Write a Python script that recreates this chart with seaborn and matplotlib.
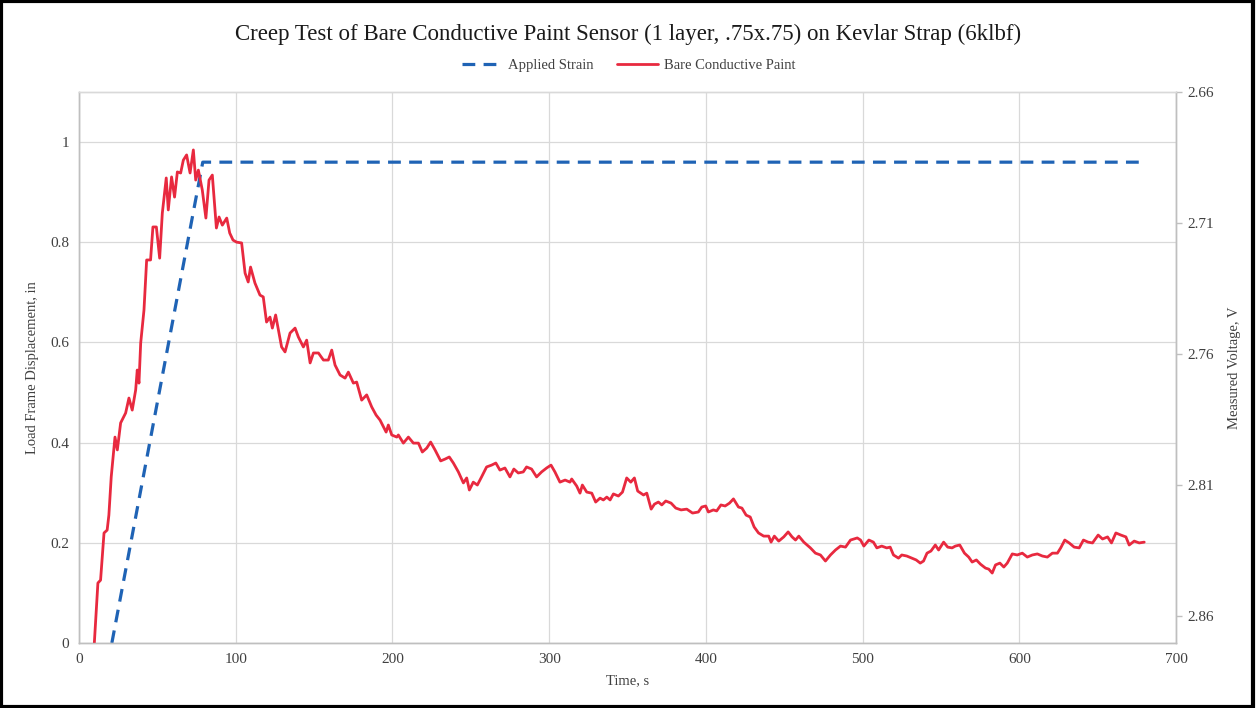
import matplotlib
matplotlib.use("Agg")
import matplotlib.pyplot as plt
from matplotlib.patches import Rectangle
from matplotlib.ticker import FuncFormatter, MultipleLocator
import numpy as np
import pandas as pd
import seaborn as sns

# applied strain (load frame displacement, in)
strain_time = [21, 79, 680]
strain_disp = [0.0, 0.96, 0.96]

# bare conductive paint sensor (measured voltage, V)
paint_time = [
    9.6, 12.1, 13.8, 16.0, 18.0, 19.1, 20.6, 23.0, 24.5, 26.6, 29.8, 31.9, 34.0,
    36.2, 37.2, 38.3, 39.4, 41.5, 43.2, 45.7, 47.2, 49.4, 51.5, 53.2, 55.7, 57.0,
    59.1, 61.0, 62.8, 64.9, 66.6, 68.7, 70.9, 73.0, 74.5, 76.2, 78.7, 81.0, 83.0,
    85.1, 87.7, 89.4, 91.5, 94.3, 96.2, 98.3, 100.6, 103.8, 106.0, 108.0, 109.5,
    112.3, 115.5, 117.6, 119.7, 121.9, 123.4, 125.5, 129.3, 131.5, 134.7, 137.9,
    140.0, 143.2, 145.3, 147.5, 149.6, 152.8, 156.0, 159.1, 161.3, 163.4, 166.6,
    169.8, 171.9, 175.1, 177.2, 180.4, 183.6, 186.8, 189.6, 192.1, 196.0, 197.4,
    199.6, 202.8, 203.8, 207.0, 210.2, 213.4, 216.6, 219.1, 221.9, 224.4, 227.2,
    230.8, 233.6, 236.3, 238.9, 242.1, 245.3, 247.4, 249.1, 251.6, 254.2, 256.9,
    260.1, 263.3, 266.0, 268.6, 271.8, 275.0, 277.5, 280.3, 283.5, 285.6, 288.8,
    292.0, 295.2, 298.4, 301.2, 303.7, 306.9, 310.2, 313.3, 314.4, 317.6, 319.7,
    321.2, 324.0, 327.2, 329.7, 332.5, 334.6, 336.8, 338.9, 341.0, 344.2, 346.8,
    349.5, 352.1, 354.4, 356.5, 360.2, 362.3, 365.1, 367.2, 369.7, 371.9, 374.4,
    377.8, 380.8, 384.2, 387.8, 391.5, 395.2, 397.4, 399.9, 401.6, 404.8, 406.9,
    409.6, 412.3, 415.1, 417.6, 420.8, 423.0, 425.7, 428.3, 430.8, 433.6, 436.9,
    440.1, 441.6, 443.7, 446.5, 449.7, 452.5, 455.0, 457.2, 459.3, 462.5, 466.7,
    469.9, 473.1, 476.3, 479.5, 482.7, 485.9, 489.1, 492.3, 496.6, 498.7, 500.8,
    504.0, 506.9, 509.1, 512.2, 515.4, 517.6, 519.7, 522.9, 525.0, 528.2, 531.4,
    534.2, 536.8, 538.9, 541.1, 543.6, 546.4, 548.5, 551.7, 554.3, 557.1, 559.2,
    562.0, 565.0, 567.7, 569.9, 572.6, 575.2, 578.4, 580.5, 582.7, 584.8, 587.6,
    590.1, 592.3, 595.5, 598.7, 601.9, 605.1, 608.3, 611.5, 614.7, 617.9, 621.1,
    624.3, 626.4, 629.0, 631.8, 635.0, 638.2, 640.9, 643.9, 646.7, 650.3, 653.1,
    656.3, 658.8, 661.6, 664.8, 668.0, 670.1, 673.3, 676.5, 679.7,
]
paint_volt = [
    2.8725, 2.8474, 2.8463, 2.8283, 2.8272, 2.8215, 2.8069, 2.7917, 2.7966, 2.7863,
    2.7825, 2.7768, 2.7814, 2.7737, 2.7661, 2.7711, 2.7558, 2.7432, 2.7241, 2.7241,
    2.7115, 2.7115, 2.7234, 2.7062, 2.6928, 2.7050, 2.6924, 2.7001, 2.6905, 2.6909,
    2.6860, 2.6840, 2.6909, 2.6821, 2.6936, 2.6898, 2.6974, 2.7081, 2.6936, 2.6917,
    2.7119, 2.7077, 2.7108, 2.7081, 2.7138, 2.7165, 2.7173, 2.7176, 2.7291, 2.7325,
    2.7268, 2.7329, 2.7375, 2.7382, 2.7478, 2.7459, 2.7501, 2.7451, 2.7573, 2.7592,
    2.7520, 2.7501, 2.7535, 2.7573, 2.7547, 2.7634, 2.7596, 2.7596, 2.7623, 2.7623,
    2.7585, 2.7642, 2.7680, 2.7692, 2.7669, 2.7711, 2.7707, 2.7776, 2.7756, 2.7802,
    2.7833, 2.7852, 2.7898, 2.7871, 2.7909, 2.7917, 2.7909, 2.7940, 2.7917, 2.7940,
    2.7940, 2.7974, 2.7959, 2.7936, 2.7966, 2.8008, 2.8001, 2.7993, 2.8016, 2.8050,
    2.8092, 2.8073, 2.8119, 2.8089, 2.8100, 2.8069, 2.8031, 2.8024, 2.8016, 2.8043,
    2.8035, 2.8069, 2.8039, 2.8054, 2.8050, 2.8031, 2.8039, 2.8069, 2.8050, 2.8035,
    2.8024, 2.8050, 2.8089, 2.8081, 2.8089, 2.8077, 2.8104, 2.8131, 2.8100, 2.8127,
    2.8131, 2.8165, 2.8150, 2.8157, 2.8146, 2.8157, 2.8134, 2.8142, 2.8127, 2.8073,
    2.8089, 2.8073, 2.8123, 2.8138, 2.8131, 2.8192, 2.8173, 2.8165, 2.8176, 2.8161,
    2.8169, 2.8188, 2.8195, 2.8192, 2.8207, 2.8203, 2.8184, 2.8180, 2.8203, 2.8195,
    2.8199, 2.8176, 2.8180, 2.8169, 2.8153, 2.8184, 2.8188, 2.8215, 2.8222, 2.8260,
    2.8283, 2.8295, 2.8295, 2.8318, 2.8295, 2.8314, 2.8298, 2.8279, 2.8298, 2.8310,
    2.8295, 2.8318, 2.8340, 2.8360, 2.8367, 2.8390, 2.8367, 2.8348, 2.8333, 2.8337,
    2.8310, 2.8302, 2.8310, 2.8333, 2.8310, 2.8318, 2.8340, 2.8333, 2.8340, 2.8337,
    2.8367, 2.8379, 2.8367, 2.8371, 2.8379, 2.8386, 2.8398, 2.8390, 2.8360, 2.8352,
    2.8329, 2.8348, 2.8318, 2.8337, 2.8340, 2.8333, 2.8329, 2.8360, 2.8375, 2.8394,
    2.8386, 2.8402, 2.8417, 2.8421, 2.8436, 2.8405, 2.8398, 2.8413, 2.8398, 2.8363,
    2.8367, 2.8360, 2.8375, 2.8367, 2.8363, 2.8371, 2.8375, 2.8360, 2.8360, 2.8340,
    2.8310, 2.8321, 2.8337, 2.8340, 2.8310, 2.8318, 2.8321, 2.8291, 2.8306, 2.8298,
    2.8321, 2.8283, 2.8291, 2.8298, 2.8329, 2.8314, 2.8321, 2.8318,
]

sns.set_style("white")
plt.rcParams['font.family'] = ['Liberation Serif', 'DejaVu Serif']

grid_c = "#d9d9d9"
axis_c = "#bfbfbf"
text_c = "#404040"
blue = "#1f63b5"
red = "#e8293f"

fig = plt.figure(figsize=(12.57, 7.08), dpi=100)
ax = fig.add_axes([0.0628, 0.0918, 0.8728, 0.7782])
ax2 = ax.twinx()

strain = pd.DataFrame({"t": strain_time, "d": strain_disp})
paint = pd.DataFrame({"t": paint_time, "v": paint_volt})

sns.lineplot(data=strain, x="t", y="d", ax=ax, color=blue, lw=2.3,
             linestyle=(0, (4, 2.6)), label="Applied Strain", legend=False)
sns.lineplot(data=paint, x="t", y="v", ax=ax2, color=red, lw=2.0,
             label="Bare Conductive Paint", legend=False, sort=False)

ax.set_xlim(0, 700)
ax.set_ylim(0, 1.1)
ax.xaxis.set_major_locator(MultipleLocator(100))
ax.set_yticks([0, 0.2, 0.4, 0.6, 0.8, 1.0])
ax.yaxis.set_major_formatter(FuncFormatter(lambda v, p: f"{v:g}"))
ax.grid(True, color=grid_c, lw=0.9)
ax.set_axisbelow(True)

ax2.set_ylim(2.8703, 2.66)
ax2.set_yticks([2.66, 2.71, 2.76, 2.81, 2.86])
ax2.yaxis.set_major_formatter(FuncFormatter(lambda v, p: f"{v:.2f}"))
ax2.grid(False)

for a in (ax, ax2):
    for s in a.spines.values():
        s.set_color(axis_c)
        s.set_linewidth(1.0)
    a.spines["top"].set_color(grid_c)
    a.tick_params(labelsize=11, labelcolor=text_c)
ax.tick_params(axis="both", length=0, pad=7)
ax2.tick_params(axis="y", length=4, color=axis_c, width=1, pad=4)

ax.set_xlabel("Time, s", fontsize=10.5, color=text_c, labelpad=6)
ax.set_ylabel("Load Frame Displacement, in", fontsize=10.5, color=text_c, labelpad=8)
ax2.set_ylabel("Measured Voltage, V", fontsize=10.5, color=text_c, labelpad=10)

fig.suptitle("Creep Test of Bare Conductive Paint Sensor (1 layer, .75x.75) on Kevlar Strap (6klbf)",
             y=0.967, fontsize=16.5, color="#1a1a1a")

h1, l1 = ax.get_legend_handles_labels()
h2, l2 = ax2.get_legend_handles_labels()
fig.legend(h1 + h2, l1 + l2, loc="center", bbox_to_anchor=(0.5, 0.908), ncol=2,
           frameon=False, fontsize=10.5, handlelength=2.8, columnspacing=1.6,
           handletextpad=0.4, labelcolor=text_c)

fig.patches.append(Rectangle((0.001, 0.002), 0.996, 0.996, transform=fig.transFigure,
                             fill=False, edgecolor="black", lw=3))

fig.savefig("out.png", dpi=100)
